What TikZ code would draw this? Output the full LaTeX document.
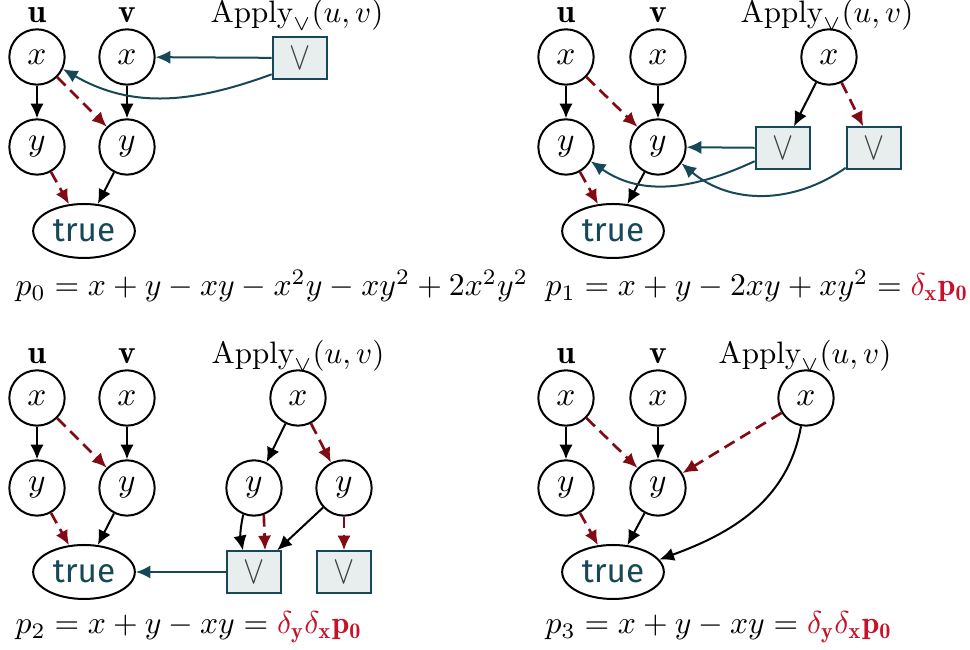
\documentclass[tikz,border=0pt]{standalone}
\usepackage{amsmath}
\usepackage{graphicx}
\usepackage{fontspec}
\newfontfamily\truefont{Fira Sans}
\usetikzlibrary{shapes.geometric,arrows.meta}
\definecolor{appblue}{RGB}{22,72,88}
\definecolor{boxgray}{RGB}{232,238,238}
\definecolor{lored}{RGB}{130,10,20}
\definecolor{formred}{RGB}{200,16,40}
\tikzset{
  var/.style={draw, circle, semithick, minimum size=16.6pt, inner sep=0pt},
  term/.style={draw, ellipse, semithick, minimum width=30.5pt, minimum height=16.2pt, inner sep=0pt, text=appblue, font=\truefont},
  opbox/.style={draw=appblue, fill=boxgray, semithick, minimum width=16.4pt, minimum height=12.4pt, inner sep=0pt, text=black!75},
  hiedge/.style={-{Latex[length=4.4pt,width=4pt]}, semithick},
  loedge/.style={hiedge, lored, thick, dash pattern=on 3.5pt off 2pt},
  applyedge/.style={hiedge, appblue},
  lbl/.style={anchor=base},
  applbl/.style={anchor=base, scale=0.93},
  formula/.style={anchor=base west, inner sep=0pt, scale=0.95},
}
\newcommand{\applyop}{$\mathrm{Apply}_{\vee}(u,v)$}
\newcommand{\orsym}{\scalebox{0.95}[1.2]{$\vee$}}
\newcommand{\dx}{\delta_{\mathbf{x}}}
\newcommand{\dy}{\delta_{\mathbf{y}}}

\begin{document}
\begin{tikzpicture}[x=0.3pt, y=-0.3pt]
  \useasboundingbox (0,0) rectangle (970,650);

  % top left: p0
  \node[lbl] (ua) at (37,23) {$\mathbf{u}$};
  \node[lbl] (va) at (127,23) {$\mathbf{v}$};
  \node[applbl] (apa) at (297,23) {\applyop};
  \node[var] (xua) at (37,57) {$x$};
  \node[var] (xva) at (127,57) {$x$};
  \node[var] (yua) at (37,147) {$y$};
  \node[var] (yva) at (127,147) {$y$};
  \node[term] (ta) at (84,231) {true};
  \node[opbox] (ora) at (300,58) {\orsym};
  \node[formula] (pa) at (15,296) {$p_0 = x + y - xy - x^2y - xy^2 + 2x^2y^2$};

  \draw[hiedge] (xua) -- (yua);
  \draw[hiedge] (xva) -- (yva);
  \draw[loedge] (xua) -- (yva);
  \draw[loedge] (yua) -- (ta);
  \draw[hiedge] (yva) -- (ta);
  \draw[applyedge] (ora) -- (xva);
  \draw[applyedge] (ora.210) to[out=200, in=-30] (xua.-25);

  % top right: p1
  \node[lbl] (ub) at (566,23) {$\mathbf{u}$};
  \node[lbl] (vb) at (658,23) {$\mathbf{v}$};
  \node[applbl] (apb) at (827,23) {\applyop};
  \node[var] (xub) at (566,57) {$x$};
  \node[var] (xvb) at (658,57) {$x$};
  \node[var] (xpb) at (829,57) {$x$};
  \node[var] (yub) at (566,147) {$y$};
  \node[var] (yvb) at (658,147) {$y$};
  \node[term] (tb) at (613,231) {true};
  \node[opbox] (orb) at (783,148) {\orsym};
  \node[opbox] (orc) at (874,148) {\orsym};
  \node[formula] (pb) at (545,296) {$p_1 = x + y - 2xy + xy^2 = \color{formred}\dx\mathbf{p_0}$};

  \draw[hiedge] (xub) -- (yub);
  \draw[hiedge] (xvb) -- (yvb);
  \draw[loedge] (xub) -- (yvb);
  \draw[loedge] (yub) -- (tb);
  \draw[hiedge] (yvb) -- (tb);
  \draw[hiedge] (xpb) -- (orb);
  \draw[loedge] (xpb) -- (orc);
  \draw[applyedge] (orb) -- (yvb);
  \draw[applyedge] (orb.205) to[out=205, in=-35] (yub.-30);
  \draw[applyedge] (orc.215) to[out=215, in=-40] (yvb.-35);

  % bottom left: p2
  \node[lbl] (uc) at (37,364) {$\mathbf{u}$};
  \node[lbl] (vc) at (127,364) {$\mathbf{v}$};
  \node[applbl] (apc) at (298,364) {\applyop};
  \node[var] (xuc) at (37,398) {$x$};
  \node[var] (xvc) at (127,398) {$x$};
  \node[var] (xpc) at (298,398) {$x$};
  \node[var] (yuc) at (37,488) {$y$};
  \node[var] (yvc) at (127,488) {$y$};
  \node[var] (ypc) at (254,488) {$y$};
  \node[var] (yqc) at (344,488) {$y$};
  \node[term] (tc) at (84,572) {true};
  \node[opbox] (ord) at (254,572) {\orsym};
  \node[opbox] (ore) at (344,572) {\orsym};
  \node[formula] (pc) at (15,634) {$p_2 = x + y - xy = \color{formred}\dy\dx\mathbf{p_0}$};

  \draw[hiedge] (xuc) -- (yuc);
  \draw[hiedge] (xvc) -- (yvc);
  \draw[loedge] (xuc) -- (yvc);
  \draw[loedge] (yuc) -- (tc);
  \draw[hiedge] (yvc) -- (tc);
  \draw[hiedge] (xpc) -- (ypc);
  \draw[loedge] (xpc) -- (yqc);
  \draw[hiedge] (ypc.-112) to[bend right=12] (ord.117);
  \draw[loedge] (ypc.-70) -- (ord.63);
  \draw[hiedge] (yqc) -- (ord);
  \draw[loedge] (yqc) -- (ore);
  \draw[applyedge] (ord) -- (tc);

  % bottom right: p3
  \node[lbl] (ud) at (566,364) {$\mathbf{u}$};
  \node[lbl] (vd) at (658,364) {$\mathbf{v}$};
  \node[applbl] (apd) at (805,364) {\applyop};
  \node[var] (xud) at (566,398) {$x$};
  \node[var] (xvd) at (658,398) {$x$};
  \node[var] (xpd) at (806,398) {$x$};
  \node[var] (yud) at (566,488) {$y$};
  \node[var] (yvd) at (658,488) {$y$};
  \node[term] (td) at (613,572) {true};
  \node[formula] (pd) at (545,634) {$p_3 = x + y - xy = \color{formred}\dy\dx\mathbf{p_0}$};

  \draw[hiedge] (xud) -- (yud);
  \draw[hiedge] (xvd) -- (yvd);
  \draw[loedge] (xud) -- (yvd);
  \draw[loedge] (yud) -- (td);
  \draw[hiedge] (yvd) -- (td);
  \draw[loedge] (xpd) -- (yvd);
  \draw[hiedge] (xpd.-100) to[out=-100, in=20] (td.15);
\end{tikzpicture}
\end{document}
